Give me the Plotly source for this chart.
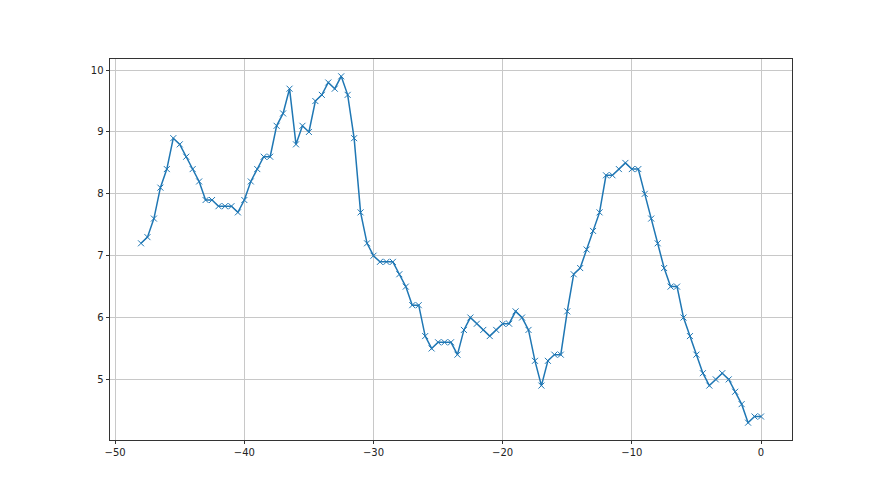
import numpy as np
import plotly.graph_objects as go

x_values = [-48 + 0.5 * i for i in range(97)]
y_values = [
    7.2, 7.3, 7.6, 8.1, 8.4, 8.9, 8.8, 8.6, 8.4, 8.2,
    7.9, 7.9, 7.8, 7.8, 7.8, 7.7, 7.9, 8.2, 8.4, 8.6,
    8.6, 9.1, 9.3, 9.7, 8.8, 9.1, 9.0, 9.5, 9.6, 9.8,
    9.7, 9.9, 9.6, 8.9, 7.7, 7.2, 7.0, 6.9, 6.9, 6.9,
    6.7, 6.5, 6.2, 6.2, 5.7, 5.5, 5.6, 5.6, 5.6, 5.4,
    5.8, 6.0, 5.9, 5.8, 5.7, 5.8, 5.9, 5.9, 6.1, 6.0,
    5.8, 5.3, 4.9, 5.3, 5.4, 5.4, 6.1, 6.7, 6.8, 7.1,
    7.4, 7.7, 8.3, 8.3, 8.4, 8.5, 8.4, 8.4, 8.0, 7.6,
    7.2, 6.8, 6.5, 6.5, 6.0, 5.7, 5.4, 5.1, 4.9, 5.0,
    5.1, 5.0, 4.8, 4.6, 4.3, 4.4, 4.4,
]
x_ticks = [-50, -40, -30, -20, -10, 0]
y_ticks = [5, 6, 7, 8, 9, 10]

color = "#1f77b4"
fig = go.Figure(go.Scatter(
    x=x_values, y=y_values, mode="lines+markers",
    line=dict(color=color, width=1.5),
    marker=dict(symbol="x-thin", size=6, color=color, line=dict(color=color, width=1)),
))

ax_common = dict(
    showline=True, mirror=True, linecolor="#333333", linewidth=0.8,
    showgrid=True, gridcolor="#c8c8c8", gridwidth=0.8,
    ticks="outside", ticklen=3.5, tickwidth=0.8, tickcolor="#333333",
    zeroline=False, tickfont=dict(family="DejaVu Sans", size=10, color="#222222"),
)
xmin, xmax = min(x_values), max(x_values)
ymin, ymax = min(y_values), max(y_values)
xm = (xmax - xmin) * 0.05
ym = (ymax - ymin) * 0.05
fig.update_xaxes(range=[xmin - xm, xmax + xm], tickvals=x_ticks,
                 ticktext=[str(v).replace("-", "\u2212") for v in x_ticks], **ax_common)
fig.update_yaxes(range=[ymin - ym, ymax + ym], tickvals=y_ticks,
                 ticktext=[str(v) for v in y_ticks], **ax_common)

fig.update_layout(
    width=880, height=495, showlegend=False,
    plot_bgcolor="white", paper_bgcolor="white",
    margin=dict(l=102, r=96, t=51, b=63),
)
fig.write_html("out.html")
